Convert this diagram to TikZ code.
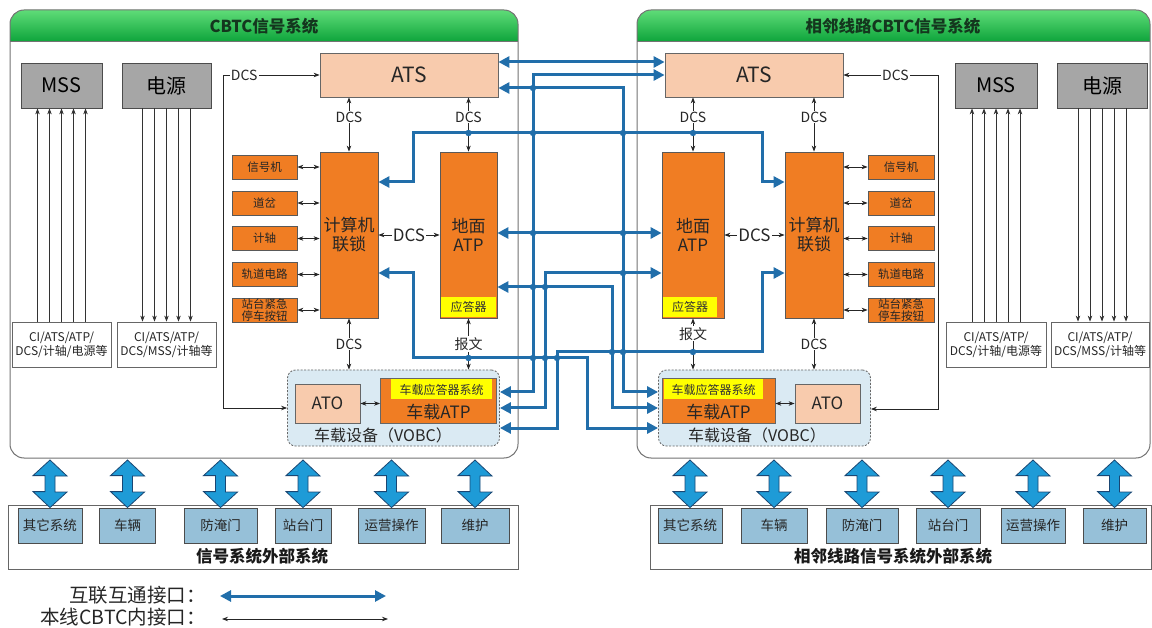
\documentclass[tikz,border=0pt]{standalone}
\usepackage{fontspec}
\setmainfont{Noto Sans CJK SC}
\usepackage{tikz}
\usetikzlibrary{positioning, arrows.meta, calc}
\definecolor{hdtop}{RGB}{95,220,120}
\definecolor{hdbot}{RGB}{15,165,60}
\definecolor{hdtext}{RGB}{20,55,30}
\definecolor{mssgray}{RGB}{166,166,166}
\definecolor{atspeach}{RGB}{248,203,173}
\definecolor{cbtcorange}{RGB}{240,125,35}
\definecolor{balyellow}{RGB}{255,255,0}
\definecolor{vobcblue}{RGB}{218,234,243}
\definecolor{linkblue}{RGB}{33,110,170}
\definecolor{extblue}{RGB}{150,192,216}
\definecolor{fatblue}{RGB}{30,155,215}
\definecolor{fatedge}{RGB}{25,70,115}
\tikzset{
  sysframe/.style = {draw=black!55, line width=1pt, rounded corners=14pt},
  hdshade/.style  = {top color=hdtop, bottom color=hdbot},
  hdtitle/.style  = {font=\bfseries\fontsize{16.5}{18}\selectfont, text=hdtext},
  gbox/.style     = {draw=black!70, fill=mssgray, line width=0.8pt, minimum width=81,
                     minimum height=45, inner sep=0pt, font=\fontsize{20}{22}\selectfont},
  ibox/.style     = {draw=black!60, fill=white, line width=0.8pt, minimum width=99,
                     minimum height=45, inner sep=0pt, align=center, text=black!85,
                     font=\fontsize{12}{14}\selectfont},
  atsbox/.style   = {draw=black!60, fill=atspeach, line width=0.8pt, minimum width=178,
                     minimum height=44, inner sep=0pt, text=black!85,
                     font=\fontsize{21}{23}\selectfont},
  tall/.style     = {draw=black!65, fill=cbtcorange, line width=0.8pt, minimum width=58,
                     minimum height=166, inner sep=0pt, align=center, text=black!85,
                     font=\fontsize{17}{19}\selectfont},
  sbox/.style     = {draw=black!65, fill=cbtcorange, line width=0.8pt, minimum width=65,
                     minimum height=24, inner sep=0pt, align=center, text=black!85,
                     font=\fontsize{11.5}{12}\selectfont},
  balbar/.style   = {fill=balyellow, inner sep=0pt, text=black!80,
                     font=\fontsize{12}{13}\selectfont},
  vobc/.style     = {draw=black!60, dash pattern=on 2pt off 1.5pt, fill=vobcblue,
                     line width=0.8pt, rounded corners=8pt, minimum width=212,
                     minimum height=76, inner sep=0pt},
  atobox/.style   = {draw=black!60, fill=atspeach, line width=0.8pt, minimum width=65,
                     minimum height=39, inner sep=0pt, text=black!85,
                     font=\fontsize{17}{19}\selectfont},
  vatp/.style     = {draw=black!60, fill=cbtcorange, line width=0.8pt, minimum width=116,
                     minimum height=45, inner sep=0pt},
  iolink/.style   = {<->, >={Triangle[length=11pt,width=11pt]}, draw=linkblue,
                     line width=3pt},
  ownlink/.style  = {<->, >={Stealth[length=6pt,width=4.5pt]}, draw=black!85,
                     line width=0.8pt},
  oneway/.style   = {->, >={Stealth[length=6pt,width=4.5pt]}, draw=black!80,
                     line width=0.7pt},
  lbl/.style      = {fill=white, inner sep=1pt, text=black!85,
                     font=\fontsize{14}{15}\selectfont},
  extframe/.style = {draw=black!60, fill=white, line width=0.8pt, minimum height=64,
                     inner sep=0pt},
  extbox/.style   = {draw=black!70, fill=extblue, line width=0.8pt, minimum height=35,
                     inner sep=0pt, text=black!85, font=\fontsize{13.5}{15}\selectfont},
  exttitle/.style = {font=\bfseries\fontsize{16.5}{18}\selectfont, text=black!90},
  fat/.style      = {fill=fatblue, draw=fatedge, line width=0.8pt},
  lgd/.style      = {anchor=east, inner sep=0pt, text=black!85,
                     font=\fontsize{19.5}{21}\selectfont},
}
\begin{document}
\begin{tikzpicture}[x=1pt, y=-1pt]
  \useasboundingbox (0,0) rectangle (1152,628);
  % the two signalling systems
  \foreach \xa/\xb in {10/518, 637/1150} {
    \fill[white, rounded corners=14pt] (\xa,10) rectangle (\xb,458);
    \begin{scope}
      \clip[rounded corners=14pt] (\xa,10) rectangle (\xb,458);
      \shade[hdshade] (\xa,10) rectangle (\xb,41);
    \end{scope}
    \draw[sysframe] (\xa,10) rectangle (\xb,458);
    \draw[black!55, line width=0.8pt] (\xa,41) -- (\xb,41);
  }
  \node[hdtitle] (Ltitle) at (264,26) {CBTC信号系统};
  \node[hdtitle] (Rtitle) at (893,26) {相邻线路CBTC信号系统};

  % own line: left
  \node[gbox] (LMSS) at (61.5,85.5) {MSS};
  \node[gbox, minimum width=89] (Lpwr) at (166.5,85.5) {电源};
  \node[ibox] (LinfoA) at (61.5,344.5) {CI/ATS/ATP/\\DCS/计轴/电源等};
  \node[ibox] (LinfoB) at (166.5,344.5) {CI/ATS/ATP/\\DCS/MSS/计轴等};
  \node[atsbox] (LATS) at (409,75) {ATS};
  \node[tall] (LCI) at (349,235) {计算机\\联锁};
  \node[tall, minimum width=57] (LGATP) at (468.5,235) {地面\\ATP};
  \node[balbar, minimum width=55, minimum height=20] (Lbal) at (468.5,307) {应答器};
  \node[vobc] (LVOBC) at (393.5,408) {};
  \node[atobox] (LATO) at (327.5,403.5) {ATO};
  \node[vatp] (Lvatp) at (438.5,400.5) {};
  \node[balbar, minimum width=101, minimum height=20] (Lvbal) at (441.5,389.5) {车载应答器系统};
  \node[text=black!85, font=\fontsize{17}{19}\selectfont] (Lvatpl) at (438.5,412) {车载ATP};
  \node[text=black!85, font=\fontsize{16}{18}\selectfont] (Lvobcl) at (383,435) {车载设备（VOBC）};

  % adjacent line: right
  \node[gbox, minimum width=82] (RMSS) at (996,85.5) {MSS};
  \node[gbox, minimum width=90] (Rpwr) at (1102,85.5) {电源};
  \node[ibox, minimum width=100] (RinfoA) at (996,344.5) {CI/ATS/ATP/\\DCS/计轴/电源等};
  \node[ibox, minimum width=98] (RinfoB) at (1100,344.5) {CI/ATS/ATP/\\DCS/MSS/计轴等};
  \node[atsbox] (RATS) at (754,75) {ATS};
  \node[tall, minimum width=62] (RGATP) at (693,235) {地面\\ATP};
  \node[balbar, minimum width=54, minimum height=20] (Rbal) at (690,307) {应答器};
  \node[tall] (RCI) at (814,235) {计算机\\联锁};
  \node[vobc] (RVOBC) at (764.5,408) {};
  \node[vatp, minimum width=113] (Rvatp) at (718.5,400.5) {};
  \node[balbar, minimum width=99, minimum height=20] (Rvbal) at (713.5,389.5) {车载应答器系统};
  \node[text=black!85, font=\fontsize{17}{19}\selectfont] (Rvatpl) at (718.5,412) {车载ATP};
  \node[atobox] (RATO) at (827.5,403.5) {ATO};
  \node[text=black!85, font=\fontsize{16}{18}\selectfont] (Rvobcl) at (757,435) {车载设备（VOBC）};

  % field equipment boxes
  \foreach \n/\lab/\y in {sig/信号机/167, sw/道岔/203, ax/计轴/238.5, tc/轨道电路/274.5,
                          esb/{站台紧急\\停车按钮}/310} {
    \node[sbox] (L\n) at (264.5,\y) {\lab};
    \draw[ownlink] (L\n.east) -- (L\n.east -| LCI.west);
    \node[sbox, minimum width=66] (R\n) at (901,\y) {\lab};
    \draw[ownlink] (R\n.west) -- (R\n.west -| RCI.east);
  }

  % MSS and power feeds
  \foreach \dx in {-24,-12,0,12,24} {
    \draw[oneway] ($(LinfoA.north -| LMSS.south)+(\dx,0)$) -- ($(LMSS.south)+(\dx,0)$);
    \draw[oneway] ($(Lpwr.south)+(\dx,0)$) -- ($(Lpwr.south |- LinfoB.north)+(\dx,0)$);
    \draw[oneway] ($(RinfoA.north -| RMSS.south)+(\dx,0)$) -- ($(RMSS.south)+(\dx,0)$);
    \draw[oneway] ($(Rpwr.south)+(\dx,0)$) -- ($(Rpwr.south |- RinfoB.north)+(\dx,0)$);
  }

  % own CBTC interfaces
  \draw[ownlink] (LATS.south -| LCI.north) -- node[lbl, pos=0.36] {DCS} (LCI.north);
  \draw[ownlink] (LATS.south -| LGATP.north) -- node[lbl, pos=0.36] {DCS} (LGATP.north);
  \draw[ownlink] (LCI.east) -- node[lbl, font=\fontsize{17}{19}\selectfont] {DCS} (LCI.east -| LGATP.west);
  \draw[ownlink] (LCI.south) -- node[lbl] {DCS} (LCI.south |- LVOBC.north);
  \draw[ownlink] (LGATP.south) -- node[lbl] {报文} (LGATP.south |- LVOBC.north);
  \draw[ownlink] (LATO.east) -- (LATO.east -| Lvatp.west);
  \draw[ownlink] (LATS.west) -- node[lbl, pos=0.78] {DCS} (223,75) -- (223,408) -- (LVOBC.west |- 0,408);
  \draw[ownlink] (RATS.south -| RGATP.north) -- node[lbl, pos=0.36] {DCS} (RGATP.north);
  \draw[ownlink] (RATS.south -| RCI.north) -- node[lbl, pos=0.36] {DCS} (RCI.north);
  \draw[ownlink] (RGATP.east |- RCI.west) -- node[lbl, font=\fontsize{17}{19}\selectfont] {DCS} (RCI.west);
  \draw[ownlink] (RGATP.south) -- node[lbl, pos=0.3] {报文} (RGATP.south |- RVOBC.north);
  \draw[ownlink] (RCI.south) -- node[lbl] {DCS} (RCI.south |- RVOBC.north);
  \draw[ownlink] (Rvatp.east |- RATO.west) -- (RATO.west);
  \draw[ownlink] (RATS.east) -- node[lbl, pos=0.55] {DCS} (938,75) -- (938,409) -- (RVOBC.east |- 0,409);

  % interoperability interfaces
  \draw[iolink] (LATS.east |- 0,62) -- (RATS.west |- 0,62);
  \draw[iolink] (LVOBC.east |- 0,392) -| (533,75) -- (RATS.west |- 0,75);
  \draw[iolink] (LATS.east |- 0,88) -| (623,392) -- (RVOBC.west |- 0,392);
  \draw[iolink] (LCI.east |- 0,182) -| (413,133) -| (762,182) -- (RCI.west |- 0,182);
  \draw[iolink] (LGATP.east |- 0,233) -- (RGATP.west |- 0,233);
  \draw[iolink] (LVOBC.east |- 0,408) -| (545,273) -- (RGATP.west |- 0,273);
  \draw[iolink] (LGATP.east |- 0,287) -| (612,408) -- (RVOBC.west |- 0,408);
  \draw[iolink] (LCI.east |- 0,273) -| (413,358) -| (587,428) -- (RVOBC.west |- 0,428);
  \draw[iolink] (LVOBC.east |- 0,428) -| (557,352) -| (762,273) -- (RCI.west |- 0,273);
  \foreach \hx/\hy in {533/88, 533/133, 623/133, 468.5/133, 693/133, 533/233, 623/233,
                       623/273, 533/287, 545/287, 612/352, 623/352, 693/352, 533/358,
                       545/358, 557/358, 468.5/358}
    \fill[linkblue] (\hx,\hy) circle (3.2pt);

  % external systems
  \node[extframe, minimum width=510] (Lext) at (263,537) {};
  \node[extframe, minimum width=501] (Rext) at (900.5,537) {};
  \node[exttitle] (Lextl) at (262,556) {信号系统外部系统};
  \node[exttitle] (Rextl) at (893,556) {相邻线路信号系统外部系统};
  \foreach \n/\cx/\w/\lab in {1/50/64/其它系统, 2/127.5/56/车辆, 3/220.5/73/防淹门,
                              4/303/56/站台门, 5/391.5/67/运营操作, 6/475/68/维护} {
    \node[extbox, minimum width=\w] (Lex\n) at (\cx,525.5) {\lab};
    \path[fat] (Lex\n.north |- 0,460) -- ++(17,16) -- ++(-12,0) -- ++(0,16) -- ++(12,0)
      -- (Lex\n.north) -- ++(-17,-16) -- ++(12,0) -- ++(0,-16) -- ++(-12,0) -- cycle;
  }
  \foreach \n/\cx/\w/\lab in {1/690/64/其它系统, 2/774/66/车辆, 3/862/72/防淹门,
                              4/948/64/站台门, 5/1033/64/运营操作, 6/1114.5/63/维护} {
    \node[extbox, minimum width=\w] (Rex\n) at (\cx,525.5) {\lab};
    \path[fat] (Rex\n.north |- 0,460) -- ++(17,16) -- ++(-12,0) -- ++(0,16) -- ++(12,0)
      -- (Rex\n.north) -- ++(-17,-16) -- ++(12,0) -- ++(0,-16) -- ++(-12,0) -- cycle;
  }

  % legend
  \node[lgd] (lgA) at (206,595) {互联互通接口：};
  \node[lgd] (lgB) at (206,617) {本线CBTC内接口：};
  \coordinate (lgA1) at (220,596);
  \coordinate (lgA2) at (386,596);
  \coordinate (lgB1) at (222,619);
  \coordinate (lgB2) at (388,619);
  \draw[iolink] (lgA1) -- (lgA2);
  \draw[ownlink] (lgB1) -- (lgB2);
\end{tikzpicture}
\end{document}
